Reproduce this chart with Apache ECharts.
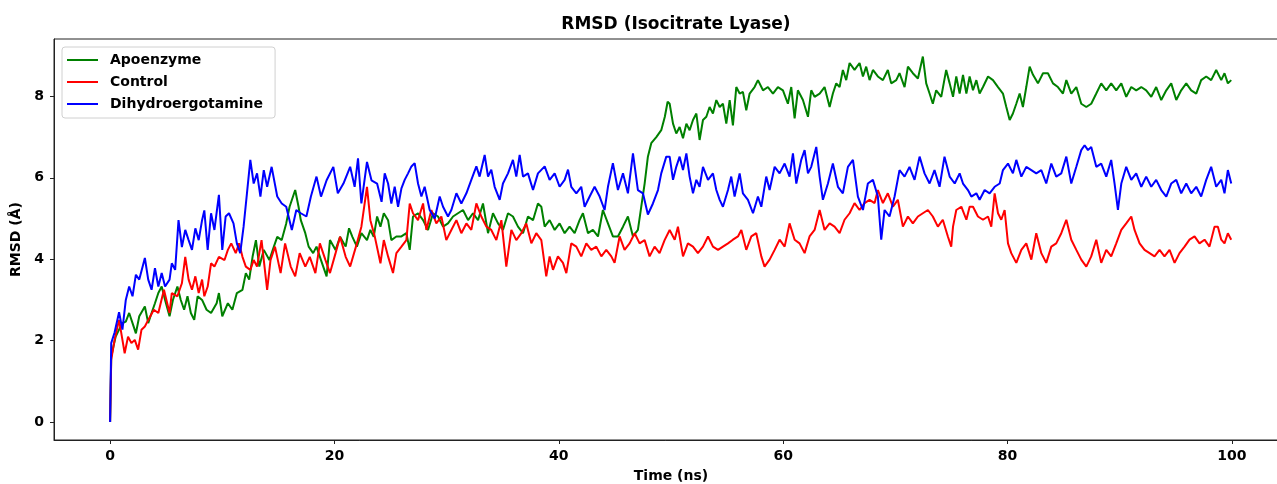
<!DOCTYPE html>
<html>
<head>
<meta charset="utf-8">
<script src="https://cdn.jsdelivr.net/npm/echarts@6/dist/echarts.min.js"></script>
<style>html,body{margin:0;padding:0;background:#fff;}#chart{width:1277px;height:484px;}</style>
</head>
<body>
<div id="chart"></div>
<script>
const seriesNames = ['Apoenzyme', 'Control', 'Dihydroergotamine'];
const xTickValues = [0, 20, 40, 60, 80, 100];
const yTickValues = [0, 2, 4, 6, 8];

const apoTime = [0,0.1,0.3,0.5,0.8,1.1,1.4,1.7,2.0,2.3,2.6,3.1,3.4,3.7,4.0,4.3,4.6,4.9,5.3,5.6,6.0,6.3,6.6,6.9,7.2,7.5,7.8,8.2,8.6,9.0,9.5,9.7,10.0,10.5,10.9,11.3,11.8,12.1,12.4,12.7,13.0,13.3,13.7,14.2,14.6,14.9,15.3,15.7,16.0,16.5,16.8,17.0,17.4,17.7,18.1,18.4,18.8,19.3,19.6,20.1,20.5,21.0,21.3,21.6,22.0,22.4,22.9,23.2,23.5,23.8,24.1,24.4,24.78,25.07,25.52,25.97,26.41,26.71,27.0,27.45,27.9,28.34,28.79,29.23,29.68,30.12,30.57,31.01,31.46,31.91,32.35,32.8,33.24,33.69,34.13,34.58,35.02,35.47,35.91,36.36,36.81,37.25,37.7,38.14,38.44,38.74,39.18,39.63,40.07,40.52,40.96,41.41,41.85,42.15,42.6,43.04,43.49,43.93,44.38,44.82,45.27,45.72,46.16,46.61,47.05,47.35,47.65,47.94,48.24,48.69,49.13,49.45,49.7,49.88,50.18,50.47,50.77,51.07,51.37,51.66,51.96,52.26,52.55,52.85,53.15,53.44,53.74,54.04,54.34,54.63,54.93,55.23,55.52,55.82,56.12,56.41,56.71,57.01,57.45,57.75,58.2,58.64,59.09,59.53,59.98,60.42,60.72,61.02,61.31,61.76,62.21,62.5,62.8,63.25,63.69,64.14,64.43,64.73,65.03,65.32,65.62,65.92,66.36,66.81,67.11,67.4,67.7,68.0,68.44,68.89,69.33,69.63,70.08,70.37,70.82,71.12,71.56,72.01,72.45,72.75,73.05,73.34,73.64,74.09,74.53,74.84,75.14,75.43,75.73,76.03,76.33,76.62,76.92,77.22,77.51,77.81,78.26,78.7,79.15,79.59,79.89,80.19,80.48,80.78,81.08,81.37,81.67,81.97,82.27,82.71,83.16,83.6,84.05,84.49,84.94,85.24,85.68,86.13,86.57,87.02,87.46,87.91,88.35,88.8,89.24,89.69,90.14,90.58,91.03,91.47,91.92,92.36,92.81,93.25,93.7,94.15,94.59,95.04,95.48,95.93,96.37,96.82,97.26,97.71,98.15,98.6,99.05,99.34,99.64,99.94];
const apoRmsd = [0,1.6,1.86,2.1,2.27,2.43,2.47,2.68,2.43,2.18,2.6,2.84,2.43,2.68,2.92,3.17,3.33,3.0,2.6,3.0,3.33,3.0,2.76,3.09,2.68,2.51,3.09,3.0,2.76,2.68,2.92,3.17,2.6,2.92,2.76,3.17,3.25,3.66,3.5,4.06,4.47,3.82,4.23,3.98,4.31,4.55,4.47,4.88,5.29,5.7,5.29,4.96,4.64,4.31,4.15,4.31,3.98,3.58,4.47,4.23,4.55,4.31,4.76,4.55,4.31,4.64,4.47,4.72,4.55,5.05,4.8,5.13,4.96,4.47,4.56,4.56,4.64,4.23,5.05,5.13,4.96,4.72,5.13,5.05,4.8,4.88,5.05,5.13,5.21,4.96,5.13,4.96,5.37,4.64,5.13,4.88,4.72,5.13,5.05,4.8,4.64,5.05,4.96,5.37,5.29,4.8,4.96,4.72,4.88,4.64,4.8,4.64,4.96,5.13,4.64,4.72,4.56,5.21,4.88,4.56,4.56,4.8,5.05,4.56,4.72,5.29,5.86,6.52,6.85,7.0,7.17,7.5,7.87,7.82,7.33,7.09,7.25,6.97,7.33,7.17,7.42,7.58,6.93,7.42,7.5,7.74,7.58,7.91,7.74,7.82,7.33,7.91,7.29,8.23,8.07,8.11,7.66,8.07,8.23,8.4,8.15,8.23,8.07,8.23,8.15,7.82,8.23,7.46,8.15,7.91,7.5,8.15,7.99,8.07,8.23,7.74,8.07,8.32,8.23,8.65,8.4,8.82,8.65,8.82,8.49,8.73,8.4,8.65,8.49,8.4,8.65,8.32,8.4,8.57,8.23,8.73,8.57,8.44,8.98,8.32,8.07,7.82,8.15,7.99,8.65,8.32,7.99,8.49,8.07,8.53,8.07,8.49,8.15,8.4,8.07,8.23,8.49,8.4,8.23,8.07,7.74,7.42,7.58,7.82,8.07,7.74,8.23,8.73,8.53,8.32,8.57,8.57,8.32,8.23,8.07,8.4,8.07,8.23,7.82,7.74,7.82,8.07,8.32,8.15,8.32,8.15,8.32,7.99,8.23,8.15,8.23,8.15,7.99,8.23,7.91,8.15,8.32,7.91,8.15,8.32,8.15,8.07,8.4,8.49,8.4,8.65,8.4,8.57,8.32,8.4];

const ctrlTime = [0,0.1,0.4,0.8,1.1,1.3,1.6,1.9,2.2,2.5,2.8,3.1,3.4,3.9,4.3,4.8,5.3,5.5,6.0,6.4,6.7,7.0,7.3,7.6,7.9,8.2,8.4,8.7,9.0,9.3,9.7,10.2,10.5,10.8,11.2,11.5,11.8,12.1,12.5,12.8,13.1,13.5,14.0,14.3,14.7,15.2,15.6,16.1,16.5,16.9,17.4,17.8,18.3,18.7,19.2,19.6,20.1,20.5,21.0,21.4,22.0,22.4,22.9,23.2,23.6,24.1,24.4,24.78,25.22,25.52,25.97,26.41,26.71,27.0,27.45,27.9,28.19,28.64,29.08,29.53,29.97,30.42,30.87,31.31,31.76,32.2,32.65,33.09,33.54,33.98,34.43,34.88,35.32,35.77,36.21,36.66,37.1,37.55,37.99,38.44,38.88,39.18,39.48,39.92,40.37,40.67,41.11,41.56,42.0,42.45,42.89,43.34,43.79,44.23,44.68,44.97,45.42,45.86,46.31,46.76,47.2,47.65,48.09,48.54,48.98,49.43,49.88,50.33,50.62,51.07,51.51,51.96,52.4,52.85,53.3,53.74,54.19,54.63,55.08,55.52,55.97,56.27,56.71,57.16,57.6,58.05,58.34,58.79,59.24,59.68,60.13,60.57,61.02,61.46,61.91,62.35,62.8,63.25,63.69,64.14,64.58,65.03,65.47,65.92,66.36,66.81,67.25,67.7,68.15,68.44,68.89,69.33,69.78,70.22,70.67,71.12,71.56,72.01,72.45,72.9,73.34,73.79,74.23,74.68,74.98,75.14,75.43,75.88,76.33,76.62,76.92,77.36,77.81,78.26,78.55,78.85,79.15,79.44,79.74,80.04,80.33,80.78,81.23,81.67,82.12,82.56,83.01,83.45,83.9,84.34,84.79,85.24,85.68,86.13,86.57,87.02,87.46,87.91,88.35,88.8,89.24,89.69,90.14,90.58,91.03,91.32,91.77,92.21,92.66,93.1,93.55,93.99,94.44,94.89,95.33,95.78,96.22,96.67,97.11,97.56,98.0,98.45,98.75,99.05,99.34,99.64,99.94];
const ctrlRmsd = [0,1.53,2.02,2.51,2.02,1.69,2.1,1.94,2.02,1.78,2.27,2.35,2.51,2.76,2.68,3.25,2.68,3.17,3.09,3.41,4.06,3.5,3.25,3.58,3.17,3.5,3.09,3.33,3.9,3.82,4.06,3.98,4.23,4.39,4.15,4.39,4.06,3.82,3.74,3.98,3.82,4.47,3.25,3.98,4.31,3.66,4.39,3.82,3.58,4.15,3.82,4.06,3.66,4.39,3.98,3.66,4.15,4.55,4.06,3.82,4.39,4.8,5.78,4.96,4.55,3.9,4.47,4.07,3.66,4.15,4.31,4.47,5.37,5.13,4.96,5.37,4.72,5.21,4.88,5.05,4.47,4.72,4.96,4.64,4.88,4.72,5.37,5.05,4.8,4.72,4.47,4.96,3.82,4.72,4.47,4.64,4.88,4.39,4.64,4.47,3.58,4.07,3.74,4.07,3.91,3.66,4.39,4.31,4.07,4.39,4.23,4.31,4.07,4.23,4.07,3.91,4.56,4.23,4.39,4.64,4.39,4.47,4.07,4.31,4.15,4.47,4.72,4.48,4.8,4.07,4.39,4.31,4.15,4.31,4.56,4.31,4.23,4.31,4.39,4.48,4.56,4.72,4.23,4.56,4.64,4.07,3.82,3.99,4.23,4.48,4.31,4.88,4.48,4.39,4.15,4.56,4.72,5.21,4.72,4.88,4.8,4.64,4.97,5.13,5.38,5.21,5.38,5.46,5.38,5.7,5.38,5.62,5.29,5.46,4.8,5.05,4.88,5.05,5.13,5.21,5.05,4.8,4.97,4.56,4.31,4.8,5.21,5.29,4.97,5.29,5.29,5.05,4.97,5.05,4.8,5.62,5.13,4.97,5.21,4.39,4.15,3.91,4.23,4.39,3.99,4.64,4.15,3.91,4.31,4.39,4.64,4.97,4.48,4.23,3.99,3.82,4.07,4.48,3.91,4.23,4.07,4.39,4.72,4.88,5.05,4.72,4.39,4.23,4.15,4.07,4.23,4.07,4.23,3.91,4.15,4.31,4.48,4.56,4.39,4.48,4.31,4.8,4.8,4.48,4.39,4.64,4.48];

const dheTime = [0,0.1,0.4,0.8,1.1,1.4,1.7,2.0,2.3,2.6,3.1,3.4,3.7,4.0,4.3,4.6,4.9,5.3,5.5,5.8,6.1,6.4,6.7,7.0,7.3,7.6,7.9,8.2,8.4,8.7,9.0,9.3,9.7,10.0,10.3,10.6,11.0,11.3,11.6,11.9,12.2,12.5,12.8,13.1,13.4,13.7,14.0,14.4,14.9,15.3,15.7,16.2,16.6,17.0,17.5,17.9,18.4,18.8,19.3,19.9,20.3,20.8,21.4,21.8,22.1,22.4,22.9,23.3,23.8,24.2,24.48,24.78,25.07,25.37,25.67,25.97,26.26,26.56,26.86,27.15,27.45,27.75,28.04,28.49,28.94,29.38,29.68,30.12,30.42,30.87,31.31,31.76,32.2,32.65,32.94,33.39,33.69,33.98,34.28,34.73,35.02,35.47,35.91,36.21,36.51,36.81,37.25,37.7,38.14,38.74,39.18,39.63,40.07,40.52,40.82,41.11,41.56,42.0,42.3,42.75,43.19,43.64,44.08,44.38,44.82,45.27,45.72,46.16,46.61,47.05,47.5,47.94,48.39,48.84,49.13,49.58,49.88,50.18,50.47,50.77,51.07,51.37,51.66,51.96,52.26,52.55,52.85,53.3,53.74,54.04,54.34,54.63,55.08,55.37,55.67,56.12,56.41,56.86,57.31,57.75,58.05,58.49,58.79,59.24,59.68,60.13,60.57,60.87,61.17,61.61,61.91,62.21,62.5,62.95,63.25,63.54,63.99,64.43,64.88,65.32,65.77,66.22,66.66,67.11,67.55,68.0,68.44,68.74,69.04,69.48,69.93,70.37,70.82,71.26,71.71,72.16,72.6,73.05,73.49,73.94,74.38,74.84,75.29,75.73,76.03,76.47,76.77,77.22,77.51,77.96,78.4,78.85,79.3,79.59,80.04,80.48,80.78,81.23,81.67,82.12,82.56,83.01,83.45,83.9,84.34,84.79,85.24,85.68,86.13,86.57,86.87,87.17,87.46,87.91,88.35,88.8,89.24,89.54,89.84,90.14,90.58,91.03,91.47,91.92,92.36,92.81,93.25,93.7,94.15,94.59,95.04,95.48,95.93,96.37,96.82,97.26,97.71,98.15,98.6,99.05,99.34,99.64,99.94];
const dheRmsd = [0,1.94,2.2,2.7,2.27,3.0,3.33,3.09,3.62,3.5,4.03,3.5,3.25,3.78,3.33,3.66,3.33,3.5,3.9,3.74,4.96,4.3,4.72,4.47,4.23,4.76,4.47,4.96,5.2,4.23,5.13,4.72,5.58,4.23,5.05,5.13,4.88,4.39,4.15,4.8,5.62,6.44,5.86,6.11,5.54,6.19,5.78,6.27,5.54,5.37,5.29,4.72,5.21,5.13,5.05,5.54,6.03,5.54,5.94,6.27,5.62,5.86,6.27,5.78,6.48,5.37,6.39,5.94,5.86,5.41,6.11,5.86,5.37,5.78,5.29,5.74,5.95,6.11,6.28,6.36,5.86,5.54,5.78,5.21,5.0,5.54,5.29,5.05,5.21,5.62,5.37,5.62,5.95,6.28,6.03,6.56,6.03,6.2,5.78,5.46,5.86,6.11,6.44,6.03,6.56,6.03,6.11,5.7,6.11,6.28,5.95,6.11,5.78,5.95,6.2,5.78,5.62,5.78,5.29,5.54,5.78,5.54,5.21,5.78,6.36,5.7,6.11,5.62,6.6,5.7,5.62,5.1,5.37,5.7,6.11,6.52,6.52,5.95,6.27,6.52,6.19,6.6,6.03,5.62,5.95,5.78,6.27,5.95,6.11,5.7,5.46,5.29,5.7,6.03,5.54,6.11,5.62,5.46,5.13,5.54,5.29,6.03,5.7,6.27,6.11,6.35,6.03,6.6,5.86,6.44,6.68,6.11,6.27,6.76,6.03,5.46,5.86,6.35,5.78,5.62,6.27,6.44,5.54,5.21,5.86,5.95,5.54,4.48,5.21,5.05,5.54,6.19,6.03,6.27,5.95,6.52,6.11,5.86,6.19,5.78,6.52,6.03,5.86,6.11,5.86,5.7,5.54,5.62,5.46,5.7,5.62,5.78,5.86,6.19,6.35,6.11,6.44,6.03,6.27,6.19,6.11,6.19,5.86,6.35,6.03,6.11,6.52,5.86,6.27,6.68,6.8,6.68,6.76,6.27,6.35,6.03,6.44,5.86,5.21,5.86,6.27,5.95,6.11,5.78,6.03,5.78,5.95,5.7,5.54,5.86,5.95,5.62,5.86,5.62,5.78,5.54,5.95,6.27,5.78,5.95,5.62,6.19,5.86];

const seriesTimes = [apoTime, ctrlTime, dheTime];
const seriesValues = [apoRmsd, ctrlRmsd, dheRmsd];
const seriesColors = ['#008000', '#ff0000', '#0000ff'];

const FONT = 'DejaVu Sans';
const chart = echarts.init(document.getElementById('chart'), null, {renderer: 'canvas'});
chart.setOption({
  animation: false,
  backgroundColor: '#ffffff',
  title: {
    text: 'RMSD (Isocitrate Lyase)',
    left: 671, top: 11, textAlign: 'center',
    textStyle: {fontFamily: FONT, fontWeight: 'bold', fontSize: 17, color: '#000'}
  },
  legend: {
    orient: 'vertical', left: 62, top: 47,
    data: seriesNames,
    icon: 'rect', itemWidth: 31, itemHeight: 2, itemGap: 6,
    padding: [5, 12, 6, 5],
    borderColor: '#d0d0d0', borderWidth: 1, borderRadius: 3,
    backgroundColor: 'rgba(255,255,255,0.8)',
    textStyle: {fontFamily: FONT, fontWeight: 'bold', fontSize: 14, color: '#000', lineHeight: 16, padding: [0, 0, 0, 7]}
  },
  grid: {left: 54, top: 39, width: 1234, height: 401, outerBoundsMode: 'none', containLabel: false,
         show: true, borderColor: '#222', borderWidth: 1, backgroundColor: 'transparent'},
  xAxis: {
    type: 'value', min: -5, max: 105,
    name: 'Time (ns)', nameLocation: 'middle', nameGap: 29,
    nameTextStyle: {fontFamily: FONT, fontWeight: 'bold', fontSize: 14, color: '#000'},
    axisLine: {show: true, onZero: false, lineStyle: {color: '#222', width: 1}},
    axisTick: {show: true, length: 4, lineStyle: {color: '#222'}, customValues: xTickValues},
    axisLabel: {customValues: xTickValues, fontFamily: FONT, fontWeight: 'bold', fontSize: 14, color: '#000', margin: 9},
    splitLine: {show: false}
  },
  yAxis: {
    type: 'value', min: -0.44, max: 9.41,
    name: 'RMSD (Å)', nameLocation: 'middle', nameGap: 22, nameRotate: 90,
    nameTextStyle: {fontFamily: FONT, fontWeight: 'bold', fontSize: 14, color: '#000'},
    axisLine: {show: true, onZero: false, lineStyle: {color: '#222', width: 1}},
    axisTick: {show: true, length: 4, lineStyle: {color: '#222'}, customValues: yTickValues},
    axisLabel: {customValues: yTickValues, fontFamily: FONT, fontWeight: 'bold', fontSize: 14, color: '#000', margin: 10},
    splitLine: {show: false}
  },
  series: seriesNames.map((name, i) => ({
    name: name,
    type: 'line',
    showSymbol: false,
    symbol: 'none',
    color: seriesColors[i],
    lineStyle: {width: 2, color: seriesColors[i]},
    data: seriesTimes[i].map((t, j) => [t, seriesValues[i][j]])
  }))
});
</script>
</body>
</html>
